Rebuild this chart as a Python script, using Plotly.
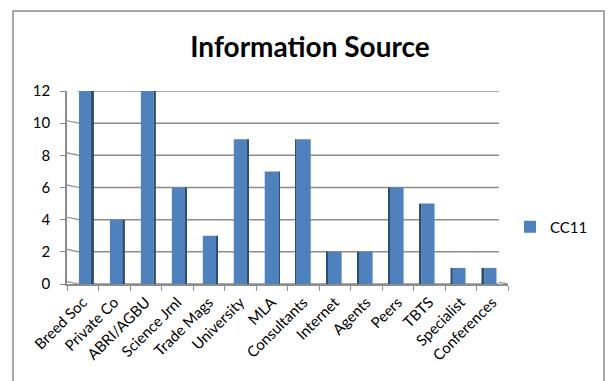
import plotly.graph_objects as go

categories = ["Breed Soc", "Private Co", "ABRI/AGBU", "Science Jrnl", "Trade Mags",
              "University", "MLA", "Consultants", "Internet", "Agents", "Peers",
              "TBTS", "Specialist", "Conferences"]
cc11 = [12, 4, 12, 6, 3, 9, 7, 9, 2, 2, 6, 5, 1, 1]
y_ticks = [0, 2, 4, 6, 8, 10, 12]

W, H = 608, 381
L, R, T, B = 67, 100, 91, 97
plot_w = W - L - R
plot_h = H - T - B
cat_px = plot_w / len(categories)

# perspective (vanishing point near centre of chart)
vanish = 6.9
total_w = 15 / cat_px
face_off, face_w, side_off, side_w = [], [], [], []
for i in range(len(categories)):
    d = vanish - i
    shift = 0.017 * d
    sw = min(abs(d) * 0.45, 3.5) / cat_px
    left = -total_w / 2 + shift
    if d >= 0:
        face_off.append(left); face_w.append(total_w - sw)
        side_off.append(left + total_w - sw); side_w.append(sw)
    else:
        side_off.append(left); side_w.append(sw)
        face_off.append(left + sw); face_w.append(total_w - sw)

FONT = "Lato"
fig = go.Figure()
fig.add_bar(x=categories, y=cc11, name="CC11", marker=dict(color="#4F81BD", line=dict(width=0)),
            width=face_w, offset=face_off)
fig.add_bar(x=categories, y=cc11, name="side", showlegend=False,
            marker=dict(color="#2C4D75", line=dict(width=0)),
            width=side_w, offset=side_off, hoverinfo="skip")

GRID = "#8C8C8C"
shapes = []
wall_x0 = 12 / plot_w
for v in y_ticks:
    # back-wall gridline
    shapes.append(dict(type="line", xref="paper", yref="y", x0=wall_x0, x1=(499 - L) / plot_w,
                       y0=v, y1=v, line=dict(color=GRID, width=1.5), layer="below"))
    # connector from front tick to back wall
    shapes.append(dict(type="line", xref="paper", yref="y", x0=0, x1=wall_x0,
                       y0=v + 0.15, y1=v, line=dict(color=GRID, width=1.2), layer="below"))
# floor right edge
shapes.append(dict(type="line", xref="paper", yref="y", x0=(499 - L) / plot_w, x1=1,
                   y0=0.12, y1=0, line=dict(color=GRID, width=1.2), layer="below"))
# outer frame
shapes.append(dict(type="rect", xref="paper", yref="paper",
                   x0=(13 - L) / plot_w, x1=(604 - L) / plot_w,
                   y0=-(B + 20) / plot_h, y1=(H - B - 11) / plot_h,
                   line=dict(color=GRID, width=1.5), fillcolor="rgba(0,0,0,0)"))

fig.update_layout(
    width=W, height=H,
    margin=dict(l=L, r=R, t=T, b=B, autoexpand=False),
    paper_bgcolor="white", plot_bgcolor="white",
    barmode="overlay",
    font=dict(family=FONT, size=15, color="#000000"),
    title=dict(text="<b>Information Source</b>", x=310 / W, xanchor="center",
               y=1 - 47 / H, yanchor="middle", font=dict(family=FONT, size=28, color="#000000")),
    showlegend=True,
    legend=dict(x=(510 - L) / plot_w, xanchor="left", y=(H - B - 227) / plot_h, yanchor="middle",
                font=dict(family=FONT, size=15), bgcolor="rgba(0,0,0,0)", itemwidth=30),
    shapes=shapes,
)
fig.update_xaxes(type="category", tickangle=-45, showline=True, linecolor=GRID, linewidth=1.5,
                 ticks="outside", tickson="boundaries", ticklen=5, tickcolor=GRID,
                 showgrid=False, range=[-0.5, len(categories) - 0.5], automargin=False,
                 ticklabelstandoff=2, tickfont=dict(family=FONT, size=15))
fig.update_yaxes(range=[0, 12], tickvals=y_ticks, showgrid=False, showline=True, linecolor=GRID,
                 linewidth=1.5, ticks="outside", ticklen=5, tickcolor=GRID, automargin=False,
                 ticklabelstandoff=7, zeroline=False, tickfont=dict(family=FONT, size=15))

fig.write_html("out.html")
